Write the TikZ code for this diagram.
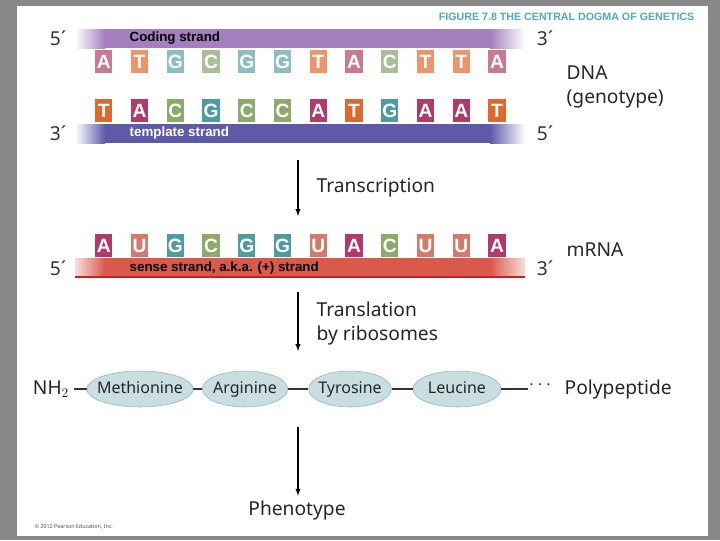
\documentclass[tikz,border=0pt]{standalone}
\usepackage{fontspec}
\setmainfont{Noto Sans}
\newfontfamily\barfont{Liberation Sans}
\usetikzlibrary{positioning,shapes.geometric}
\definecolor{frame}{HTML}{888888}
\definecolor{codpurple}{HTML}{A47EBD}
\definecolor{tmpblue}{HTML}{5F5AA8}
\definecolor{rnared}{HTML}{D95A4B}
\definecolor{rnaline}{HTML}{C8202A}
\definecolor{titleteal}{HTML}{4FA9C0}
\definecolor{pepfill}{HTML}{C9DEE0}
\definecolor{pepdraw}{HTML}{8FB3B8}
% light bases (coding strand)
\definecolor{lightA}{HTML}{C97A93}
\definecolor{lightT}{HTML}{EA966A}
\definecolor{lightG}{HTML}{8DBDC2}
\definecolor{lightC}{HTML}{A9BF97}
% dark bases (template strand, mRNA)
\definecolor{darkA}{HTML}{B03B6B}
\definecolor{darkT}{HTML}{DB6A2C}
\definecolor{darkG}{HTML}{4F9BA2}
\definecolor{darkC}{HTML}{8DAA6B}
\definecolor{darkU}{HTML}{D07B6C}

\begin{document}
\begin{tikzpicture}[x=0.75pt,y=-0.75pt,
    base/.style={minimum width=13pt, minimum height=17pt, inner sep=0pt,
      text=white, font=\barfont\bfseries\Large},
    strand_label/.style={font=\barfont\bfseries, anchor=west},
    end_label/.style={font=\Large, text=black!80},
    side_label/.style={font=\Large, anchor=west, align=left, text=black!85},
    step_arrow/.style={-latex, thick},
    amino/.style={ellipse, fill=pepfill, draw=pepdraw, minimum width=72pt,
      minimum height=27pt, inner xsep=-4pt, inner ysep=1pt, text height=1.6ex,
      text depth=0.3ex, font=\large, text=black!85},
    bond/.style={thick, black!80}
]
    % Rahmen
    \fill[frame] (0,0) rectangle (720,540);
    \fill[white] (17,6) rectangle (708,536);
    \useasboundingbox (0,0) rectangle (720,540);
    \node[font=\barfont\bfseries\footnotesize, text=titleteal, anchor=east] (title) at (699,17) {FIGURE 7.8 THE CENTRAL DOGMA OF GENETICS};
    % Strang oben
    \shade[left color=white, right color=codpurple] (75,29) rectangle (105,48);
    \fill[codpurple] (105,29) rectangle (490,48);
    \shade[left color=codpurple, right color=white] (490,29) rectangle (525,48);
    \node[strand_label] (coding) at (125,38) {Coding strand};
    \foreach \b [count=\i] in {A,T,G,C,G,G,T,A,C,T,T,A}
        \node[base, fill=light\b] (t\i) at (68+35.75*\i,61.5) {\b};
    % Strang unten
    \foreach \b [count=\i] in {T,A,C,G,C,C,A,T,G,A,A,T}
        \node[base, fill=dark\b] (b\i) at (68+35.75*\i,110.5) {\b};
    \shade[left color=white, right color=tmpblue] (75,124) rectangle (105,143);
    \fill[tmpblue] (105,124) rectangle (490,143);
    \shade[left color=tmpblue, right color=white] (490,124) rectangle (525,143);
    \node[strand_label, text=white] (template) at (125,133) {template strand};
    \node[end_label] (c5) at (58,38) {5\textasciiacute};
    \node[end_label] (c3) at (545,38) {3\textasciiacute};
    \node[end_label] (t3) at (58,133) {3\textasciiacute};
    \node[end_label] (t5) at (545,133) {5\textasciiacute};
    \node[side_label] (dna) at (562,87) {DNA\\(genotype)};
    % Transkription
    \coordinate (a1) at (298,160);
    \coordinate (a2) at (298,216);
    \draw[step_arrow] (a1) -- (a2);
    \node[side_label] (transcr) at (312,188) {Transcription};
    % mRNA
    \foreach \b [count=\i] in {A,U,G,C,G,G,U,A,C,U,U,A}
        \node[base, fill=dark\b] (m\i) at (68+35.75*\i,245.5) {\b};
    \shade[left color=white!80!rnared, right color=rnared] (75,258) rectangle (105,276);
    \fill[rnared] (105,258) rectangle (490,276);
    \shade[left color=rnared, right color=white!80!rnared] (490,258) rectangle (525,276);
    \draw[rnaline, thick] (75,277) -- (525,277);
    \node[strand_label] (sense) at (125,268) {sense strand, a.k.a. (+) strand};
    \node[end_label] (m5) at (58,268) {5\textasciiacute};
    \node[end_label] (m3) at (545,268) {3\textasciiacute};
    \node[side_label] (mrna) at (562,250) {mRNA};
    % Translation
    \coordinate (a3) at (298,292);
    \coordinate (a4) at (298,351);
    \draw[step_arrow] (a3) -- (a4);
    \node[side_label] (transl) at (312,323) {Translation\\by ribosomes};
    % Polypeptid
    \node[font=\Large, text=black!85] (nh2) at (51,389) {NH$_2$};
    \node[amino] (met) at (140,389) {Methionine};
    \node[amino, minimum width=64pt] (arg) at (245,389) {Arginine};
    \node[amino, minimum width=62pt] (tyr) at (350,389) {Tyrosine};
    \node[amino, minimum width=66pt] (leu) at (457,389) {Leucine};
    \node[font=\Large, text=black!85] (dots) at (540,385) {$\cdots$};
    \coordinate (chain) at (528,389);
    \node[side_label] (poly) at (560,389) {Polypeptide};
    \draw[bond] (nh2) -- (met);
    \draw[bond] (met) -- (arg);
    \draw[bond] (arg) -- (tyr);
    \draw[bond] (tyr) -- (leu);
    \draw[bond] (leu) -- (chain);
    % Phaenotyp
    \node[side_label, anchor=center] (pheno) at (297,510) {Phenotype};
    \coordinate (a5) at (298,427);
    \draw[step_arrow] (a5) -- (a5 |- pheno.north);
    \node[font=\fontsize{4}{5}\selectfont, text=black!70, anchor=west] (copy) at (30,527) {\textcopyright{} 2012 Pearson Education, Inc.};
\end{tikzpicture}
\end{document}
